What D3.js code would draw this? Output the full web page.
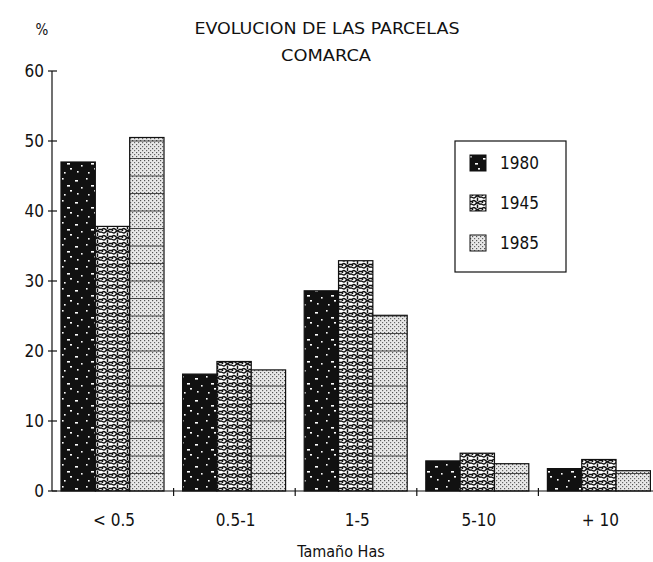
<!DOCTYPE html>
<html><head><meta charset="utf-8">
<script src="https://cdn.jsdelivr.net/npm/d3@7"></script>
<style>
html,body{margin:0;padding:0;background:#fff;}
text{font-family:"Liberation Sans Narrow","DejaVu Sans Condensed","Liberation Sans",sans-serif;fill:#111;}
</style></head>
<body>
<svg id="c" width="653" height="562"></svg>
<script>
const categories = ["< 0.5", "0.5-1", "1-5", "5-10", "+ 10"];
const seriesNames = ["1980", "1945", "1985"];
const values1980 = [47.0, 16.7, 28.6, 4.3, 3.2];
const values1945 = [37.8, 18.5, 32.9, 5.4, 4.5];
const values1985 = [50.5, 17.3, 25.1, 3.9, 2.9];
const yTicks = [0, 10, 20, 30, 40, 50, 60];
const titleLines = ["EVOLUCION DE LAS PARCELAS", "COMARCA"];
const xTitle = "Tamaño Has";
const yUnit = "%";

const seriesValues = [values1980, values1945, values1985];
const svg = d3.select("#c");
const defs = svg.append("defs");

// pattern: 1980 black with white specks
const p1 = defs.append("pattern").attr("id","p1980").attr("patternUnits","userSpaceOnUse").attr("width",24).attr("height",22);
p1.append("rect").attr("width",24).attr("height",22).attr("fill","#111");
[[3,4],[14,2],[9,11],[19,9],[5,17],[16,18],[22,14]].forEach(([x,y],i)=>{
  p1.append("rect").attr("x",x).attr("y",y).attr("width",i%3===0?3:1.6).attr("height",1.6).attr("fill","#fff");
});
// pattern: 1945 white with wavy black maze
const p2 = defs.append("pattern").attr("id","p1945").attr("patternUnits","userSpaceOnUse").attr("width",10).attr("height",7);
p2.append("rect").attr("width",10).attr("height",7).attr("fill","#fff");
p2.append("path").attr("d","M0,1.5 C2,-0.5 3,3.5 5,1.5 S8,-0.5 10,1.5 M0,5 C2,7 3,3 5,5 S8,7 10,5 M7.5,1.5 L7.5,5 M2.5,5 L2.5,7")
  .attr("stroke","#111").attr("stroke-width",1.5).attr("fill","none");
// pattern: 1985 light gray stipple
const p3 = defs.append("pattern").attr("id","p1985").attr("patternUnits","userSpaceOnUse").attr("width",4).attr("height",4);
p3.append("rect").attr("width",4).attr("height",4).attr("fill","#e8e8e8");
p3.append("rect").attr("x",0).attr("y",0).attr("width",1.2).attr("height",1.2).attr("fill","#555");
p3.append("rect").attr("x",2).attr("y",2).attr("width",1.2).attr("height",1.2).attr("fill","#666");
const fills = ["url(#p1980)","url(#p1945)","url(#p1985)"];

const y = d3.scaleLinear().domain([0, 60]).range([491, 71]);
const x0 = d3.scaleBand().domain(categories).range([52, 660]).paddingInner(0).paddingOuter(0);
const x1 = d3.scaleBand().domain(seriesNames).range([9, 112]);

// bars
const g = svg.append("g");
categories.forEach((c, ci) => {
  seriesNames.forEach((s, si) => {
    const v = seriesValues[si][ci];
    const bx = x0(c) + x1(s);
    g.append("rect").attr("x", bx).attr("y", y(v)).attr("width", x1.bandwidth()).attr("height", y(0) - y(v))
      .attr("fill", fills[si]).attr("stroke", "#111").attr("stroke-width", 1.2);
    if (si === 2) {
      d3.range(2.5, v, 2.5).forEach(t => {
        g.append("line").attr("x1", bx).attr("x2", bx + x1.bandwidth()).attr("y1", y(t)).attr("y2", y(t))
          .attr("stroke", "#222").attr("stroke-width", 0.8);
      });
    }
  });
});

// y axis
const ya = svg.append("g");
ya.append("line").attr("x1",52).attr("x2",52).attr("y1",y(60)).attr("y2",y(0)).attr("stroke","#111").attr("stroke-width",1.2);
yTicks.forEach(t => {
  ya.append("line").attr("x1",48).attr("x2",57).attr("y1",y(t)).attr("y2",y(t)).attr("stroke","#111").attr("stroke-width",1.2);
  ya.append("text").attr("x",44).attr("y",y(t)+6).attr("text-anchor","end").attr("font-size",17).text(t);
});
svg.append("text").attr("x",42).attr("y",35).attr("text-anchor","middle").attr("font-size",15).text(yUnit);

// x axis
const xa = svg.append("g");
xa.append("line").attr("x1",52).attr("x2",653).attr("y1",y(0)).attr("y2",y(0)).attr("stroke","#111").attr("stroke-width",1.2);
categories.forEach((c, ci) => {
  if (ci > 0) xa.append("line").attr("x1",x0(c)).attr("x2",x0(c)).attr("y1",y(0)-3).attr("y2",y(0)+5).attr("stroke","#111").attr("stroke-width",1.2);
  xa.append("text").attr("x", x0(c) + 62).attr("y", 526).attr("text-anchor","middle").attr("font-size",17).text(c);
});
svg.append("text").attr("x",341).attr("y",557).attr("text-anchor","middle").attr("font-size",16).text(xTitle);

// title
svg.append("text").attr("x",327).attr("y",34).attr("text-anchor","middle").attr("font-size",16)
  .attr("textLength",265).attr("lengthAdjust","spacingAndGlyphs").text(titleLines[0]);
svg.append("text").attr("x",326).attr("y",61).attr("text-anchor","middle").attr("font-size",16)
  .attr("textLength",90).attr("lengthAdjust","spacingAndGlyphs").text(titleLines[1]);

// legend
const lg = svg.append("g");
lg.append("rect").attr("x",455).attr("y",141).attr("width",111).attr("height",131).attr("fill","#fff").attr("stroke","#111").attr("stroke-width",1.2);
seriesNames.forEach((s, si) => {
  const ly = 163 + si * 40;
  lg.append("rect").attr("x",470).attr("y",ly-8).attr("width",16).attr("height",16).attr("fill",fills[si]).attr("stroke","#111").attr("stroke-width",1);
  lg.append("text").attr("x",500).attr("y",ly+6).attr("font-size",17).text(s);
});
</script>
</body></html>
